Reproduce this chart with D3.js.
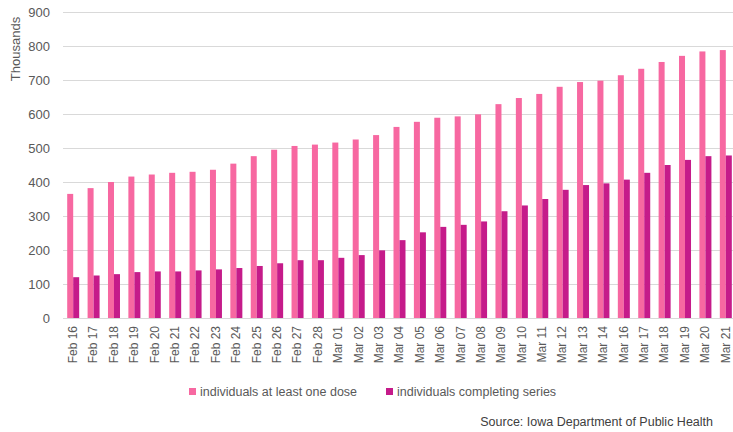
<!DOCTYPE html>
<html lang="en">
  <head>
    <meta charset="utf-8" />
    <title>Iowa vaccinations</title>
    <script src="https://d3js.org/d3.v7.min.js" charset="utf-8"></script>
    <style>
      body { margin: 0; background: #fff; }
      svg { font-family: "Liberation Sans", Arial, sans-serif; }
      .axis text { fill: #595959; }
    </style>
  </head>
  <body>
    <div id="svg-container"></div>
    <script>
      // data (thousands)
      const dates = ["Feb 16", "Feb 17", "Feb 18", "Feb 19", "Feb 20", "Feb 21", "Feb 22", "Feb 23", "Feb 24", "Feb 25",
        "Feb 26", "Feb 27", "Feb 28", "Mar 01", "Mar 02", "Mar 03", "Mar 04", "Mar 05", "Mar 06", "Mar 07", "Mar 08",
        "Mar 09", "Mar 10", "Mar 11", "Mar 12", "Mar 13", "Mar 14", "Mar 16", "Mar 17", "Mar 18", "Mar 19", "Mar 20", "Mar 21"];
      const oneDose = [365, 382, 400, 416, 422, 427, 430, 436, 454, 476,
        495, 506, 510, 516, 525, 538, 562, 577, 589, 593, 599,
        629, 647, 659, 680, 694, 698, 714, 733, 753, 771, 784, 788];
      const completed = [120, 125, 129, 135, 137, 137, 140, 143, 147, 153,
        161, 170, 170, 177, 185, 199, 229, 252, 268, 274, 284,
        314, 331, 350, 377, 391, 396, 407, 427, 450, 465, 476, 478];
      const yTicks = [0, 100, 200, 300, 400, 500, 600, 700, 800, 900];
      const seriesNames = ["individuals at least one dose", "individuals completing series"];
      const colours = ["#f768a1", "#c51b8a"];

      const width = 733, height = 432;
      const margin = { top: 12, left: 63, right: -3, bottom: 114 };
      const innerW = width - margin.left - margin.right;
      const innerH = height - margin.top - margin.bottom;

      const svg = d3.select("#svg-container").append("svg")
        .attr("width", width).attr("height", height);
      const g = svg.append("g").attr("transform", `translate(${margin.left},${margin.top})`);

      const x = d3.scaleBand().domain(dates).range([0, innerW]);
      const xs = d3.scaleBand().domain([0, 1]).range([x.bandwidth() / 2 - 6, x.bandwidth() / 2 + 6]);
      const y = d3.scaleLinear().domain([0, 900]).range([innerH, 0]);

      // gridlines
      g.append("g").selectAll("line").data(yTicks).join("line")
        .attr("x1", 0).attr("x2", width - margin.left)
        .attr("y1", d => y(d) + 0.5).attr("y2", d => y(d) + 0.5)
        .attr("stroke", "#d9d9d9").attr("stroke-width", 1);

      // y axis
      const yaxis = d3.axisLeft(y).tickValues(yTicks).tickSize(0).tickPadding(13);
      g.append("g").attr("class", "axis").call(yaxis)
        .call(s => s.select(".domain").remove())
        .selectAll("text").style("font-size", "13px");

      svg.append("text")
        .attr("transform", "translate(20,49) rotate(-90)")
        .attr("text-anchor", "middle")
        .attr("fill", "#595959").style("font-size", "13px")
        .text("Thousands");

      // bars
      const groups = g.selectAll("g.day").data(dates).join("g")
        .attr("class", "day")
        .attr("transform", d => `translate(${x(d)},0)`);
      groups.append("rect")
        .attr("x", xs(0)).attr("width", xs.bandwidth())
        .attr("y", (d, i) => y(oneDose[i]))
        .attr("height", (d, i) => y(0) - y(oneDose[i]))
        .attr("fill", colours[0]);
      groups.append("rect")
        .attr("x", xs(1)).attr("width", xs.bandwidth())
        .attr("y", (d, i) => y(completed[i]))
        .attr("height", (d, i) => y(0) - y(completed[i]))
        .attr("fill", colours[1]);

      // x axis
      const xaxis = d3.axisBottom(x).tickSize(0).tickPadding(0);
      const gx = g.append("g").attr("class", "axis")
        .attr("transform", `translate(0,${innerH})`).call(xaxis);
      gx.select(".domain").attr("stroke", "#d9d9d9");
      gx.selectAll("text")
        .style("font-size", "12px")
        .attr("text-anchor", "end")
        .attr("dy", "0.32em")
        .attr("transform", "translate(0,8) rotate(-90)");

      // legend
      const legendX = [189, 386];
      const legend = svg.append("g").selectAll("g").data(seriesNames).join("g")
        .attr("transform", (d, i) => `translate(${legendX[i]},388)`);
      legend.append("rect").attr("width", 7).attr("height", 7)
        .attr("fill", (d, i) => colours[i]);
      legend.append("text").attr("x", 11).attr("y", 8)
        .attr("fill", "#595959").style("font-size", "12.5px")
        .text(d => d);

      svg.append("text")
        .attr("x", 713).attr("y", 426)
        .attr("text-anchor", "end")
        .attr("fill", "#404040").style("font-size", "12.5px")
        .text("Source: Iowa Department of Public Health");
    </script>
  </body>
</html>
